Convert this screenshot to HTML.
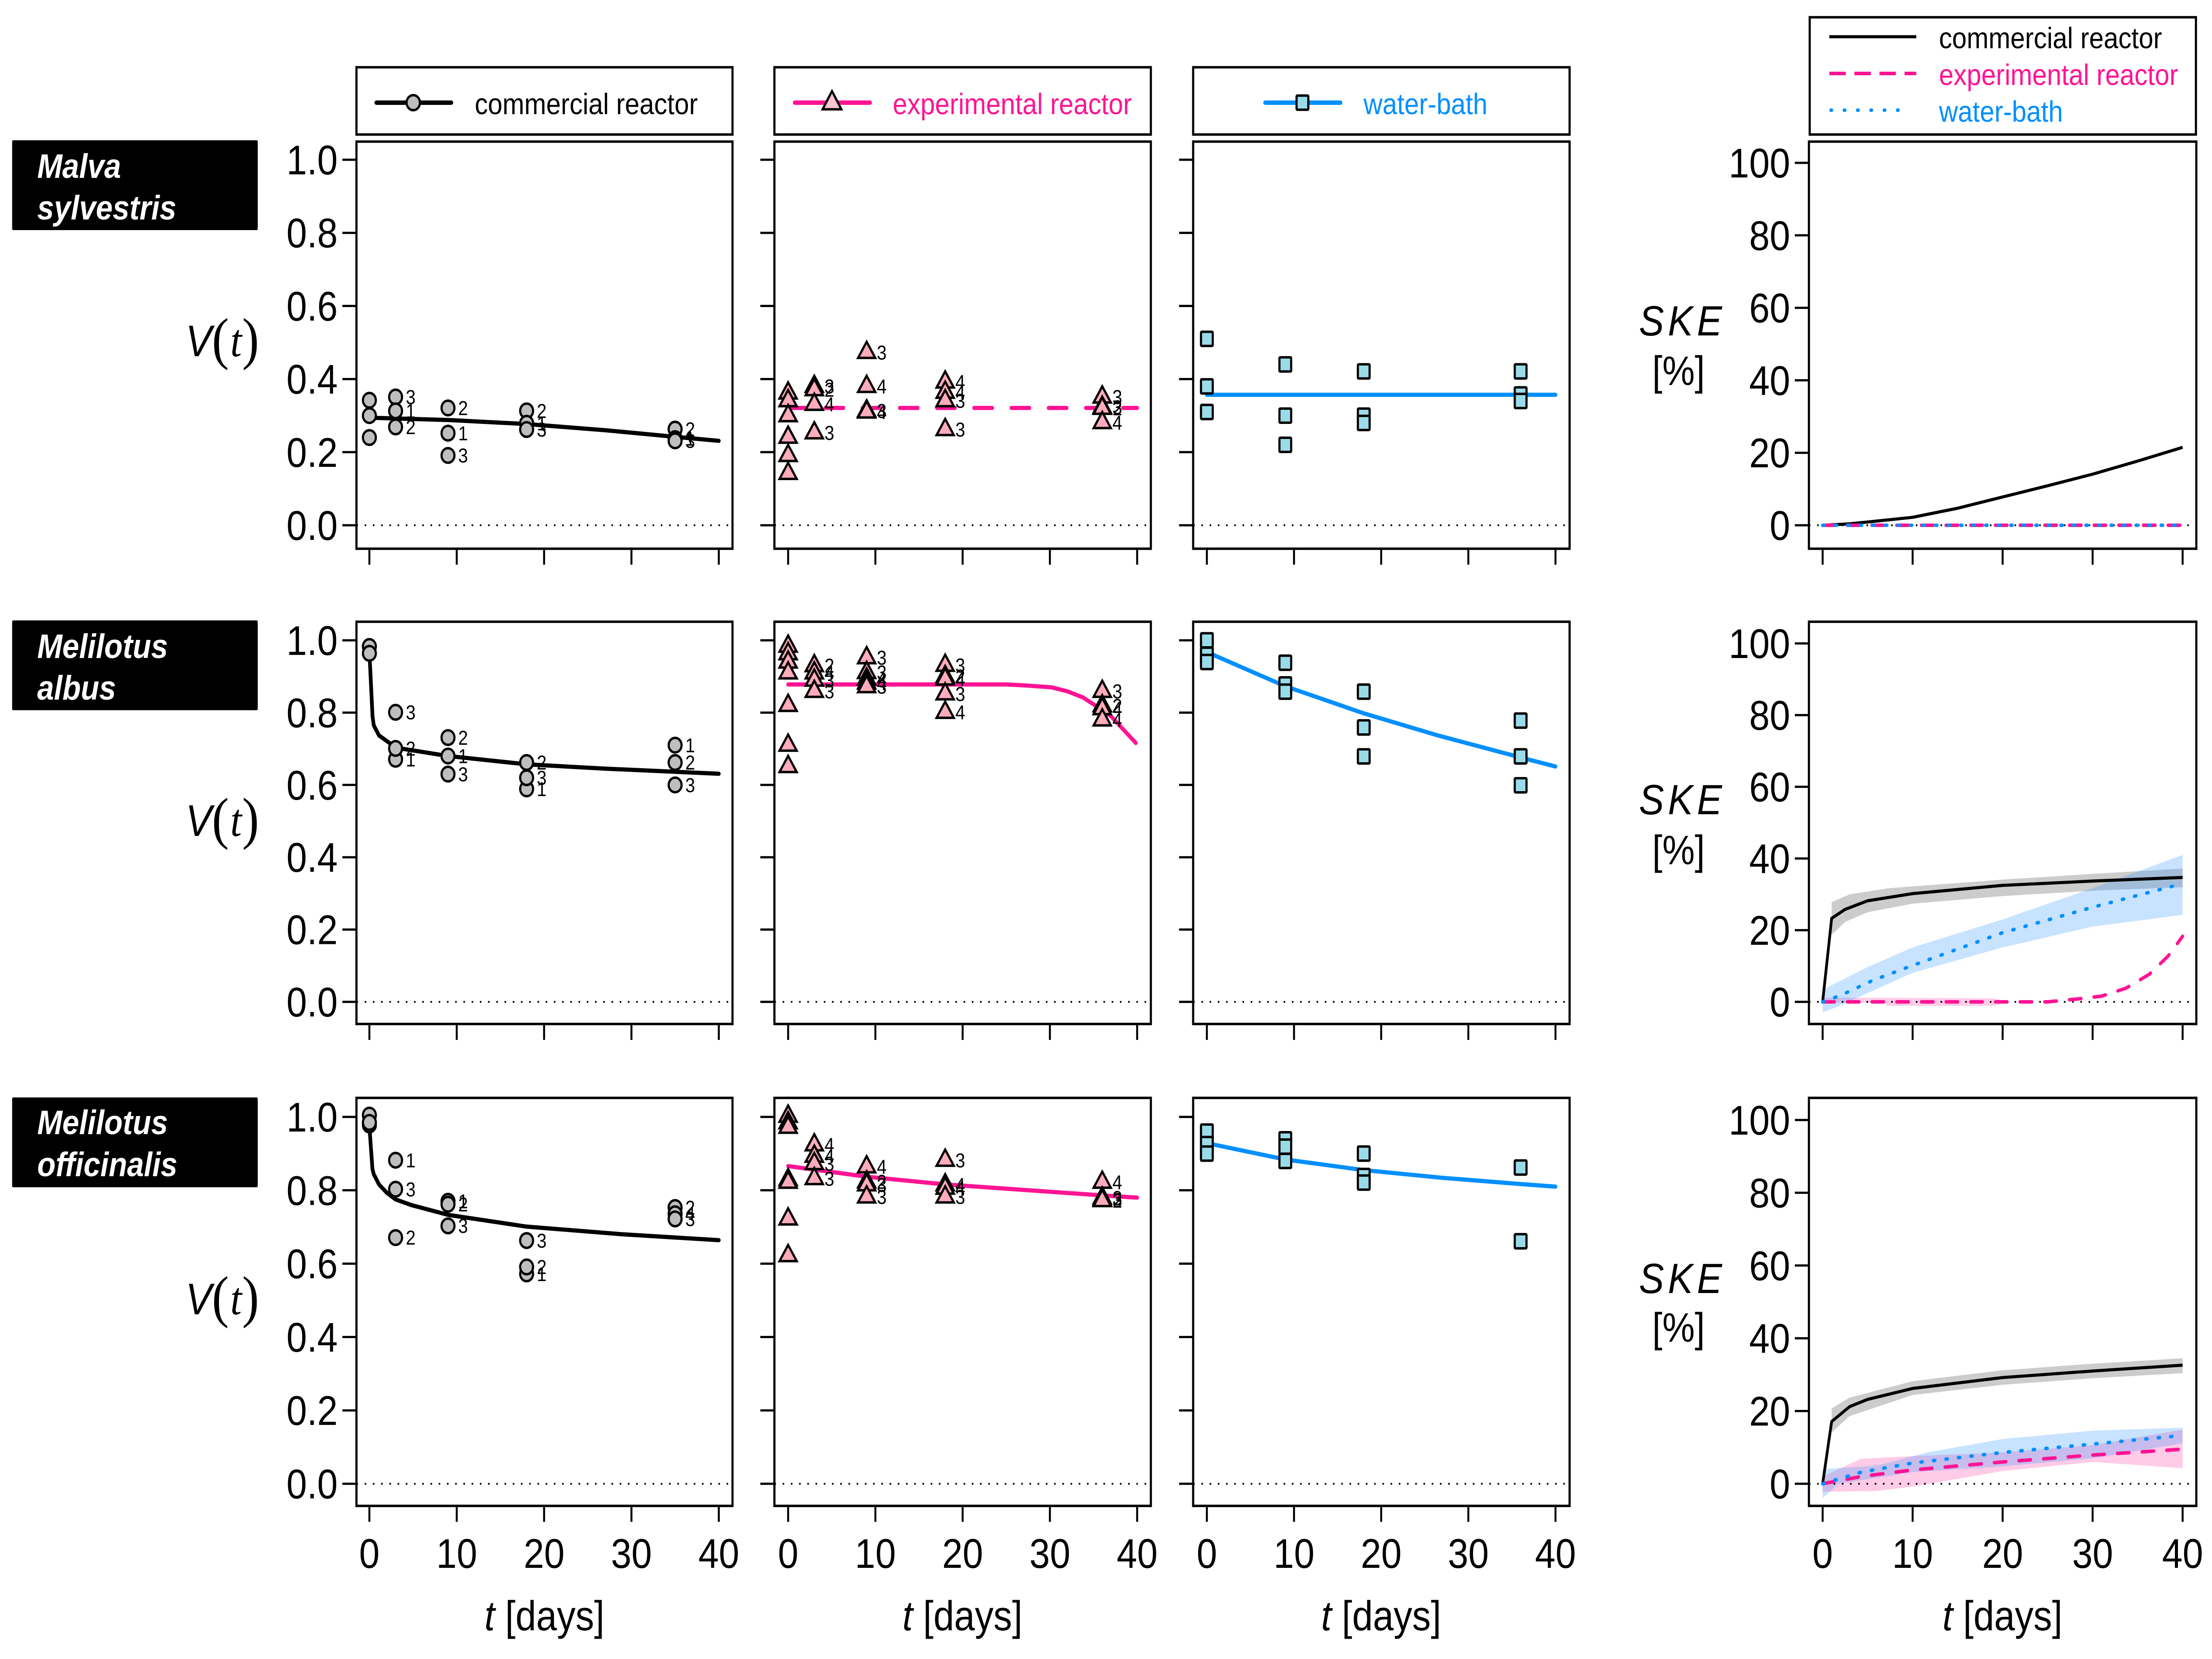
<!DOCTYPE html>
<html lang="en">
<head>
<meta charset="utf-8">
<title>Seed viability and SKE by species and treatment</title>
<style>
html,body{margin:0;padding:0;background:#fff;width:100%;height:100%;overflow:hidden}
svg{display:block;position:absolute;left:0;top:0;width:100vw;height:100vh}
text{font-family:"Liberation Sans",sans-serif;fill:#000}
</style>
</head>
<body>
<svg id="chart" xmlns="http://www.w3.org/2000/svg" viewBox="0 0 5647 3749" preserveAspectRatio="none">
<rect x="0" y="0" width="5647" height="3749" fill="#fff"/>

<g>
<rect x="31" y="317" width="627" height="203" rx="3" fill="#000"/>
<text x="95" y="402" font-size="77" font-weight="bold" font-style="italic" style="fill:#fff">Malva</text>
<text x="95" y="496" font-size="77" font-weight="bold" font-style="italic" style="fill:#fff">sylvestris</text>
</g>
<g>
<rect x="31" y="1402" width="627" height="203" rx="3" fill="#000"/>
<text x="95" y="1487" font-size="77" font-weight="bold" font-style="italic" style="fill:#fff">Melilotus</text>
<text x="95" y="1581" font-size="77" font-weight="bold" font-style="italic" style="fill:#fff">albus</text>
</g>
<g>
<rect x="31" y="2480" width="627" height="203" rx="3" fill="#000"/>
<text x="95" y="2563" font-size="77" font-weight="bold" font-style="italic" style="fill:#fff">Melilotus</text>
<text x="95" y="2658" font-size="77" font-weight="bold" font-style="italic" style="fill:#fff">officinalis</text>
</g>

<g>
<rect x="910" y="152" width="960" height="152" fill="none" stroke="#000" stroke-width="5.5"/>
<line x1="961" y1="232" x2="1152" y2="232" stroke="#000" stroke-width="10" stroke-linecap="round"/>
<circle cx="1055" cy="232" r="17" fill="#bebebe" stroke="#000" stroke-width="5.5"/>
<text x="1212" y="258" font-size="67">commercial reactor</text>
</g>
<g>
<rect x="1977" y="152" width="961" height="152" fill="none" stroke="#000" stroke-width="5.5"/>
<line x1="2029" y1="232" x2="2221" y2="232" stroke="#ff1493" stroke-width="10" stroke-linecap="round"/>
<polygon points="2124,206 2148,247 2100,247" fill="#ffc4cf" stroke="#000" stroke-width="5.5" stroke-linejoin="miter"/>
<text x="2279" y="258" font-size="67" style="fill:#ff1493">experimental reactor</text>
</g>
<g>
<rect x="3046" y="152" width="961" height="152" fill="none" stroke="#000" stroke-width="5.5"/>
<line x1="3230" y1="232" x2="3422" y2="232" stroke="#008fff" stroke-width="10" stroke-linecap="round"/>
<rect x="3310" y="216" width="30" height="32" rx="2" fill="#9adbe9" stroke="#000" stroke-width="5.5"/>
<text x="3481" y="258" font-size="67" style="fill:#008fff">water-bath</text>
</g>
<g>
<rect x="4620" y="39" width="986" height="265" fill="none" stroke="#000" stroke-width="5.5"/>
<line x1="4670" y1="83" x2="4892" y2="83" stroke="#000" stroke-width="7"/>
<line x1="4670" y1="166" x2="4892" y2="166" stroke="#ff1493" stroke-width="8" stroke-dasharray="42 22"/>
<line x1="4674" y1="249" x2="4872" y2="249" stroke="#008fff" stroke-width="8" stroke-dasharray="2 32" stroke-linecap="round"/>
<text x="4950" y="109" font-size="67">commercial reactor</text>
<text x="4950" y="192" font-size="67" style="fill:#ff1493">experimental reactor</text>
<text x="4950" y="275" font-size="67" style="fill:#008fff">water-bath</text>
</g>

<g>
<text x="474" y="805" font-size="100" font-style="italic">V</text>
<text x="541" y="809" font-size="130" style="font-family:'Liberation Serif',serif">(</text>
<text x="588" y="805" font-size="105" font-style="italic" style="font-family:'Liberation Serif',serif">t</text>
<text x="618" y="809" font-size="130" style="font-family:'Liberation Serif',serif">)</text>
</g>
<g>
<text x="474" y="1889" font-size="100" font-style="italic">V</text>
<text x="541" y="1893" font-size="130" style="font-family:'Liberation Serif',serif">(</text>
<text x="588" y="1889" font-size="105" font-style="italic" style="font-family:'Liberation Serif',serif">t</text>
<text x="618" y="1893" font-size="130" style="font-family:'Liberation Serif',serif">)</text>
</g>
<g>
<text x="474" y="2970" font-size="100" font-style="italic">V</text>
<text x="541" y="2974" font-size="130" style="font-family:'Liberation Serif',serif">(</text>
<text x="588" y="2970" font-size="105" font-style="italic" style="font-family:'Liberation Serif',serif">t</text>
<text x="618" y="2974" font-size="130" style="font-family:'Liberation Serif',serif">)</text>
</g>

<text x="4184" y="758" font-size="96" font-style="italic" letter-spacing="10">SKE</text>
<text x="4218" y="870" font-size="93">[%]</text>
<text x="4184" y="1840" font-size="96" font-style="italic" letter-spacing="10">SKE</text>
<text x="4218" y="1953" font-size="93">[%]</text>
<text x="4184" y="2922" font-size="96" font-style="italic" letter-spacing="10">SKE</text>
<text x="4218" y="3032" font-size="93">[%]</text>

<text x="1390" y="3684" font-size="95" text-anchor="middle"><tspan font-style="italic">t</tspan> [days]</text>
<text x="2457" y="3684" font-size="95" text-anchor="middle"><tspan font-style="italic">t</tspan> [days]</text>
<text x="3526" y="3684" font-size="95" text-anchor="middle"><tspan font-style="italic">t</tspan> [days]</text>
<text x="5112" y="3684" font-size="95" text-anchor="middle"><tspan font-style="italic">t</tspan> [days]</text>
</svg>

<script>
// ---------- Tick values ----------
const xTicks = [0, 10, 20, 30, 40];
const vTicks = [0, 0.2, 0.4, 0.6, 0.8, 1.0];
const vTickLabels = ['0.0', '0.2', '0.4', '0.6', '0.8', '1.0'];
const skeTicks = [0, 20, 40, 60, 80, 100];
const skeTickLabels = ['0', '20', '40', '60', '80', '100'];

// ---------- Observed viability: [day, V, replicate] (0 = unlabelled) ----------
const malvaCommercialPoints = [[0,.342,0],[0,.30,0],[0,.24,0],[3,.351,3],[3,.313,1],[3,.269,2],[9,.321,2],[9,.252,1],[9,.191,3],[18,.313,2],[18,.279,1],[18,.262,3],[35,.263,2],[35,.237,1],[35,.231,3]];
const malvaExperimentalPoints = [[0,.362,0],[0,.341,0],[0,.30,0],[0,.241,0],[0,.191,0],[0,.142,0],[3,.38,3],[3,.371,2],[3,.331,4],[3,.253,3],[9,.473,3],[9,.38,4],[9,.313,3],[9,.31,4],[18,.392,4],[18,.364,4],[18,.341,3],[18,.262,3],[36,.351,3],[36,.323,3],[36,.32,2],[36,.281,4]];
const malvaWaterPoints = [[0,.51,0],[0,.38,0],[0,.31,0],[9,.44,0],[9,.30,0],[9,.22,0],[18,.421,0],[18,.30,0],[18,.28,0],[36,.421,0],[36,.358,0],[36,.34,0]];

const albusCommercialPoints = [[0,.983,0],[0,.964,0],[3,.801,3],[3,.671,1],[3,.701,2],[9,.731,2],[9,.68,1],[9,.63,3],[18,.589,1],[18,.62,3],[18,.662,2],[35,.71,1],[35,.662,2],[35,.60,3]];
const albusExperimentalPoints = [[0,.984,0],[0,.963,0],[0,.94,0],[0,.91,0],[0,.82,0],[0,.71,0],[0,.651,0],[3,.93,2],[3,.91,4],[3,.89,3],[3,.859,3],[9,.952,3],[9,.911,3],[9,.893,4],[9,.882,4],[9,.872,3],[18,.931,3],[18,.90,2],[18,.893,4],[18,.852,3],[18,.801,4],[36,.859,3],[36,.819,2],[36,.811,4],[36,.78,4]];
const albusWaterPoints = [[0,1.0,0],[0,.96,0],[0,.94,0],[9,.938,0],[9,.878,0],[9,.858,0],[18,.858,0],[18,.759,0],[18,.679,0],[36,.778,0],[36,.679,0],[36,.599,0]];

const officinalisCommercialPoints = [[0,1.005,0],[0,.978,0],[0,.985,0],[3,.882,1],[3,.803,3],[3,.671,2],[9,.77,1],[9,.762,2],[9,.703,3],[18,.663,3],[18,.572,1],[18,.591,2],[35,.753,2],[35,.736,4],[35,.722,3]];
const officinalisExperimentalPoints = [[0,1.002,0],[0,.984,0],[0,.972,0],[0,.829,0],[0,.822,0],[0,.722,0],[0,.622,0],[3,.924,4],[3,.893,4],[3,.873,3],[3,.832,3],[9,.864,4],[9,.823,2],[9,.815,3],[9,.782,3],[18,.882,3],[18,.815,4],[18,.806,4],[18,.782,3],[36,.822,4],[36,.779,3],[36,.774,3],[36,.772,2]];
const officinalisWaterPoints = [[0,.96,0],[0,.926,0],[0,.90,0],[9,.939,0],[9,.919,0],[9,.88,0],[18,.90,0],[18,.839,0],[18,.821,0],[36,.862,0],[36,.661,0]];

// ---------- Fitted viability curves: [day, V] ----------
const malvaCommercialCurve = [[.6,.294],[9,.288],[18,.277],[27,.26],[35,.242],[40,.231]];
const malvaExperimentalCurve = [[0,.321],[40,.321]];
const malvaWaterCurve = [[0,.357],[40,.357]];
const albusCommercialCurve = [[.06,.94],[.36,.79],[.5,.765],[1.1,.737],[2.3,.716],[3,.703],[9,.68],[18,.657],[27,.645],[40,.631]];
const albusExperimentalCurve = [[0,.878],[25,.878],[27.3,.875],[30.2,.87],[32,.859],[33.8,.842],[35,.823],[37,.79],[39.85,.716]];
const albusWaterCurve = [[0,.97],[.9,.958],[9,.873],[18,.798],[26.5,.737],[36,.676],[40,.651]];
const officinalisCommercialCurve = [[.06,.955],[.35,.858],[.5,.844],[1.1,.816],[2,.793],[3,.775],[4.9,.759],[9,.733],[18,.701],[29,.68],[40,.664]];
const officinalisExperimentalCurve = [[0,.866],[9,.837],[18,.816],[36,.786],[40,.78]];
const officinalisWaterCurve = [[0,.928],[.9,.924],[9,.884],[18,.855],[27,.834],[36,.817],[40,.81]];

// ---------- SKE lines: [day, percent] ----------
const malvaSkeCommercial = [[0,0],[3,.4],[5,.9],[10,2.2],[15,4.7],[20,7.8],[25,10.9],[30,14.1],[35,17.7],[40,21.5]];
const malvaSkeExperimental = [[0,0],[40,0]];
const malvaSkeWater = [[0,0],[40,0]];

const albusSkeCommercial = [[0,0],[1,23.3],[2.5,25.8],[5,28.2],[10,30.2],[20,32.5],[30,33.7],[40,34.7]];
const albusSkeCommercialUpper = [[1,27.8],[3,30],[7.3,31.7],[20,34.1],[30,35.7],[40,37.2]];
const albusSkeCommercialLower = [[1,18.7],[2.5,22.3],[5,25],[10,27.4],[20,29.5],[30,31],[40,32]];
const albusSkeExperimental = [[0,0],[25,0],[28.3,.8],[31,1.6],[33.7,3.8],[36.3,7.7],[38.4,12.8],[40,18.3]];
const albusSkeExperimentalUpper = [[0,1.2],[19,1],[20,.4]];
const albusSkeExperimentalLower = [[0,-.2],[7,-.3],[7.1,-1.1],[19,-1.1],[20,-.5]];
const albusSkeWater = [[0,0],[2,1.8],[5.5,5.9],[9.6,9.8],[20,19.3],[30,26.4],[40,33]];
const albusSkeWaterUpper = [[0,3.4],[5,9.7],[10,15.2],[20,23],[30,31.7],[40,41]];
const albusSkeWaterLower = [[0,-2.9],[1.7,-1.3],[10,8.1],[20,15.2],[30,21],[40,24.3]];

const officinalisSkeCommercial = [[0,0],[1,17.1],[3,21.2],[5,23.2],[10,26.2],[20,29.2],[30,31],[40,32.6]];
const officinalisSkeCommercialUpper = [[1,20.7],[3,23.7],[10,28.2],[20,31.2],[30,33],[40,34.5]];
const officinalisSkeCommercialLower = [[1,14.1],[3,18.6],[10,24.4],[20,27.2],[30,29],[40,30.4]];
const officinalisSkeExperimental = [[0,0],[4.3,2],[10,3.8],[20,6],[30,7.9],[40,9.5]];
const officinalisSkeExperimentalUpper = [[0,2],[4.3,6.9],[10,7.6],[20,8.6],[30,10.6],[40,14.9]];
const officinalisSkeExperimentalLower = [[0,-2.2],[6,-2],[10,-.8],[20,3.5],[30,6],[40,4.3]];
const officinalisSkeWater = [[0,0],[4.3,3.2],[10,5.7],[20,8.6],[30,10.9],[40,13.3]];
const officinalisSkeWaterUpper = [[0,4],[6,5],[11.6,8.6],[20,12.3],[30,14.6],[40,15.4]];
const officinalisSkeWaterLower = [[0,-4],[1.7,0],[10,3.2],[20,4.8],[30,7],[40,11.1]];

// ---------- Drawing ----------
const NS = 'http://www.w3.org/2000/svg';
const svg = document.getElementById('chart');
const COLORS = { commercial: '#000000', experimental: '#ff1493', water: '#008fff' };
const rowGeom = [
  { top: 320, bottom: 1240, v1: 361, v0: 1187, s100: 368, s0: 1187 },
  { top: 1405, bottom: 2314, v1: 1447, v0: 2264, s100: 1454, s0: 2264 },
  { top: 2481, bottom: 3403, v1: 2524, v0: 3353, s100: 2531, s0: 3353 }
];
const colGeom = [
  { left: 910, right: 1870, x0: 943, x40: 1835 },
  { left: 1977, right: 2938, x0: 2012, x40: 2903 },
  { left: 3046, right: 4007, x0: 3081, x40: 3971 },
  { left: 4618, right: 5607, x0: 4653, x40: 5572 }
];

function make(tag, parent, attrs) {
  const el = document.createElementNS(NS, tag);
  for (const k in attrs) el.setAttribute(k, attrs[k]);
  parent.appendChild(el);
  return el;
}
function xScale(col) {
  const c = colGeom[col];
  return d => c.x0 + (d / 40) * (c.x40 - c.x0);
}
function vScale(row) {
  const r = rowGeom[row];
  return v => r.v0 - v * (r.v0 - r.v1);
}
function skeScale(row) {
  const r = rowGeom[row];
  return s => r.s0 - (s / 100) * (r.s0 - r.s100);
}
function pathOf(data, x, y) {
  return data.map((p, i) => (i ? 'L' : 'M') + x(p[0]).toFixed(1) + ' ' + y(p[1]).toFixed(1)).join(' ');
}

function drawFrame(g, row, col, yScale, ticks, labels, showYLabels) {
  const r = rowGeom[row], c = colGeom[col], x = xScale(col);
  const zero = make('line', g, { x1: c.left, x2: c.right, y1: yScale(0), y2: yScale(0), stroke: '#000', 'stroke-width': 4, 'stroke-dasharray': '4 17' });
  
  
  xTicks.forEach((t, i) => {
    const tick = make('line', g, { x1: x(t), x2: x(t), y1: r.bottom, y2: r.bottom + 36, stroke: '#000', 'stroke-width': 5 });
    
    
    if (row === 2) {
      const lab = make('text', g, { x: x(t), y: 3543, 'font-size': 94, 'text-anchor': 'middle' });
      lab.textContent = String(t);
      
      
    }
  });
  ticks.forEach((t, i) => {
    const tick = make('line', g, { x1: c.left - 36, x2: c.left, y1: yScale(t), y2: yScale(t), stroke: '#000', 'stroke-width': 5 });
    
    
    if (showYLabels) {
      const lab = make('text', g, { x: c.left - 48, y: yScale(t) + 33, 'font-size': 94, 'text-anchor': 'end' });
      lab.textContent = labels[i];
      
      
    }
  });
}
function drawBorder(g, row, col) {
  const r = rowGeom[row], c = colGeom[col];
  const frame = make('rect', g, { x: c.left, y: r.top, width: c.right - c.left, height: r.bottom - r.top, fill: 'none', stroke: '#000', 'stroke-width': 5.5 });
  
  
}
function drawMarker(g, kind, cx, cy) {
  let m;
  if (kind === 'circle') {
    m = make('circle', g, { cx: cx, cy: cy, r: 16.5, fill: '#bebebe', stroke: '#000', 'stroke-width': 5.5 });
  } else if (kind === 'triangle') {
    const pts = cx + ',' + (cy - 24) + ' ' + (cx + 22) + ',' + (cy + 12.5) + ' ' + (cx - 22) + ',' + (cy + 12.5);
    m = make('polygon', g, { points: pts, fill: '#ffabbb', stroke: '#000', 'stroke-width': 5.5 });
  } else {
    m = make('rect', g, { x: cx - 15, y: cy - 16, width: 30, height: 32, rx: 2, fill: '#9adbe9', stroke: '#000', 'stroke-width': 5.5 });
  }
  
  
}

function viabilityPanel(row, col, name, points, curve, kind, color, dashed) {
  const g = make('g', svg, {});
  
  
  const x = xScale(col), y = vScale(row);
  drawFrame(g, row, col, y, vTicks, vTickLabels, col === 0);
  const attrs = { d: pathOf(curve, x, y), fill: 'none', stroke: color, 'stroke-width': 9.5, 'stroke-linecap': 'round', 'stroke-linejoin': 'round' };
  if (dashed) attrs['stroke-dasharray'] = '46 49';
  const line = make('path', g, attrs);
  
  
  points.forEach(p => drawMarker(g, kind, x(p[0]), y(p[1])));
  points.forEach(p => {
    if (!p[2]) return;
    const t = make('text', g, { x: x(p[0]) + 26, y: y(p[1]) + 16, 'font-size': 45 });
    t.textContent = String(p[2]);
    
    
  });
  drawBorder(g, row, col);
}

function drawBand(g, upper, lower, x, y, fill) {
  const d = pathOf(upper.concat(lower.slice().reverse()), x, y) + ' Z';
  const band = make('path', g, { d: d, fill: fill, stroke: 'none' });
  
  
}
function skePanel(row, name, s) {
  const col = 3;
  const g = make('g', svg, {});
  
  
  const x = xScale(col), y = skeScale(row);
  if (s.cUp) drawBand(g, s.cUp, s.cLo, x, y, 'rgba(0,0,0,0.2)');
  if (s.eUp) drawBand(g, s.eUp, s.eLo, x, y, 'rgba(255,20,147,0.22)');
  if (s.wUp) drawBand(g, s.wUp, s.wLo, x, y, 'rgba(30,144,255,0.25)');
  drawFrame(g, row, col, y, skeTicks, skeTickLabels, true);
  const black = make('path', g, { d: pathOf(s.c, x, y), fill: 'none', stroke: COLORS.commercial, 'stroke-width': 7, 'stroke-linejoin': 'round' });
  
  
  const pink = make('path', g, { d: pathOf(s.e, x, y), fill: 'none', stroke: COLORS.experimental, 'stroke-width': 8, 'stroke-dasharray': '30 33', 'stroke-linecap': 'round' });
  
  
  const blue = make('path', g, { d: pathOf(s.w, x, y), fill: 'none', stroke: COLORS.water, 'stroke-width': 8, 'stroke-dasharray': '4 28', 'stroke-linecap': 'round' });
  
  
  drawBorder(g, row, col);
}

viabilityPanel(0, 0, 'panel-malva-commercial', malvaCommercialPoints, malvaCommercialCurve, 'circle', COLORS.commercial, false);
viabilityPanel(0, 1, 'panel-malva-experimental', malvaExperimentalPoints, malvaExperimentalCurve, 'triangle', COLORS.experimental, true);
viabilityPanel(0, 2, 'panel-malva-water-bath', malvaWaterPoints, malvaWaterCurve, 'square', COLORS.water, false);
viabilityPanel(1, 0, 'panel-albus-commercial', albusCommercialPoints, albusCommercialCurve, 'circle', COLORS.commercial, false);
viabilityPanel(1, 1, 'panel-albus-experimental', albusExperimentalPoints, albusExperimentalCurve, 'triangle', COLORS.experimental, false);
viabilityPanel(1, 2, 'panel-albus-water-bath', albusWaterPoints, albusWaterCurve, 'square', COLORS.water, false);
viabilityPanel(2, 0, 'panel-officinalis-commercial', officinalisCommercialPoints, officinalisCommercialCurve, 'circle', COLORS.commercial, false);
viabilityPanel(2, 1, 'panel-officinalis-experimental', officinalisExperimentalPoints, officinalisExperimentalCurve, 'triangle', COLORS.experimental, false);
viabilityPanel(2, 2, 'panel-officinalis-water-bath', officinalisWaterPoints, officinalisWaterCurve, 'square', COLORS.water, false);

skePanel(0, 'panel-malva-ske', { c: malvaSkeCommercial, e: malvaSkeExperimental, w: malvaSkeWater });
skePanel(1, 'panel-albus-ske', {
  c: albusSkeCommercial, cUp: albusSkeCommercialUpper, cLo: albusSkeCommercialLower,
  e: albusSkeExperimental, eUp: albusSkeExperimentalUpper, eLo: albusSkeExperimentalLower,
  w: albusSkeWater, wUp: albusSkeWaterUpper, wLo: albusSkeWaterLower
});
skePanel(2, 'panel-officinalis-ske', {
  c: officinalisSkeCommercial, cUp: officinalisSkeCommercialUpper, cLo: officinalisSkeCommercialLower,
  e: officinalisSkeExperimental, eUp: officinalisSkeExperimentalUpper, eLo: officinalisSkeExperimentalLower,
  w: officinalisSkeWater, wUp: officinalisSkeWaterUpper, wLo: officinalisSkeWaterLower
});
</script>
</body>
</html>
